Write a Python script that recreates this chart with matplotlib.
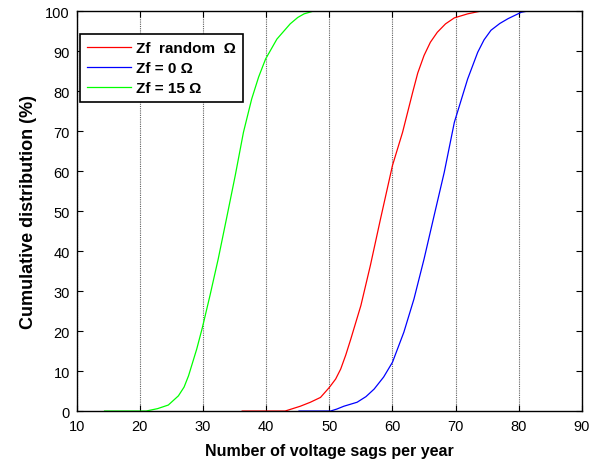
import matplotlib
matplotlib.use("Agg")
import matplotlib.pyplot as plt

# Zf random
red_x = [36.2, 43.0, 44.2, 45.4, 47.0, 48.6, 50.0, 51.0, 51.8, 52.6, 53.4, 55.0, 56.5, 58.1, 60.0, 61.6, 63.2, 64.0, 65.0, 66.0, 67.1, 68.4, 69.8, 71.9, 74.0, 80.1]
red_y = [0, 0, 0.6, 1.2, 2.2, 3.4, 5.9, 8.0, 10.5, 14.0, 18, 26.4, 36.4, 48, 61.4, 69.7, 79.7, 84.5, 88.9, 92.2, 94.7, 96.8, 98.3, 99.3, 100, 100]
# Zf = 0
blue_x = [45.2, 50.2, 51.2, 52.3, 54.4, 55.8, 57.1, 58.6, 60.0, 61.8, 63.4, 65.0, 66.6, 68.2, 69.8, 71.9, 73.5, 74.5, 75.6, 77.0, 78.3, 80.4, 81.4, 86.7]
blue_y = [0, 0, 0.5, 1.2, 2.2, 3.6, 5.5, 8.5, 12.2, 19.7, 28, 38, 48.9, 59.7, 72.2, 83, 89.7, 92.8, 95.2, 96.9, 98.1, 99.7, 100, 100]
# Zf = 15
green_x = [14.4, 21.0, 22.8, 24.5, 26.1, 27.0, 27.7, 29.0, 29.9, 31.1, 32.4, 33.7, 35.1, 36.4, 37.7, 38.8, 39.9, 41.7, 43.8, 45.0, 46.0, 47.5, 55.5]
green_y = [0, 0, 0.6, 1.5, 3.8, 6.0, 8.8, 15.5, 20.9, 28.9, 38, 48, 58.9, 69.7, 78, 83.5, 88, 93, 96.8, 98.4, 99.3, 100, 100]

labels = ["Zf  random  \u03a9", "Zf = 0 \u03a9", "Zf = 15 \u03a9"]
x_ticks = [10, 20, 30, 40, 50, 60, 70, 80, 90]
y_ticks = [0, 10, 20, 30, 40, 50, 60, 70, 80, 90, 100]

plt.rcParams['font.family'] = ['Liberation Sans', 'DejaVu Sans']

fig = plt.figure(figsize=(5.95, 4.64), dpi=100)
ax = fig.add_axes([0.129, 0.112, 0.849, 0.862])

ax.plot(red_x, red_y, color='#ff0000', lw=0.9, label=labels[0])
ax.plot(blue_x, blue_y, color='#0000ff', lw=0.9, label=labels[1])
ax.plot(green_x, green_y, color='#00ff00', lw=0.9, label=labels[2])

ax.set_xlim(10, 90)
ax.set_ylim(0, 100)
ax.set_xticks(x_ticks)
ax.set_yticks(y_ticks)
ax.tick_params(direction='in', top=True, right=True, labelsize=10.5, length=4, width=0.8)
ax.tick_params(axis='x', pad=6)
ax.tick_params(axis='y', pad=5)
ax.xaxis.grid(True, linestyle=(0, (1, 1)), color='#606060', lw=0.8)
for s in ax.spines.values():
    s.set_linewidth(1.0)

ax.set_xlabel('Number of voltage sags per year', fontsize=11.5, fontweight='bold', labelpad=7)
ax.set_ylabel('Cumulative distribution (%)', fontsize=13, fontweight='bold', labelpad=6)

leg = ax.legend(loc='upper left', bbox_to_anchor=(0.006, 0.9425), fancybox=False, framealpha=1,
                edgecolor='black', prop={'weight': 'bold', 'size': 11}, handlelength=2.9,
                handletextpad=0.35, borderaxespad=0, labelspacing=0.4, borderpad=0.45)
leg.get_frame().set_linewidth(1.2)

fig.savefig('out.png', dpi=100)
